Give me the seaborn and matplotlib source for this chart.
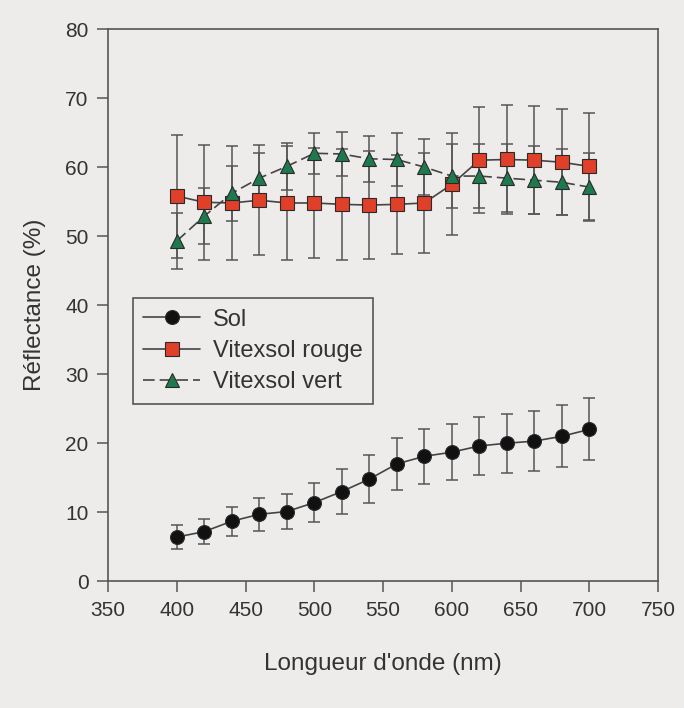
"""
Reflectance spectra of soil and Vitexsol mulch (red / green), mean +/- sd.
"""

import matplotlib
matplotlib.use("Agg")
import matplotlib.pyplot as plt
import seaborn as sns

# wavelengths (nm)
wavelength = [400, 420, 440, 460, 480, 500, 520, 540,
              560, 580, 600, 620, 640, 660, 680, 700]

# reflectance (%) and standard deviation
sol = [6.4, 7.2, 8.7, 9.7, 10.1, 11.4, 13.0, 14.8,
       17.0, 18.1, 18.7, 19.6, 20.0, 20.3, 21.0, 22.0]
sol_err = [1.7, 1.8, 2.1, 2.4, 2.6, 2.8, 3.2, 3.5,
           3.8, 4.0, 4.1, 4.2, 4.3, 4.3, 4.5, 4.5]

rouge = [55.8, 54.9, 54.8, 55.2, 54.8, 54.8, 54.6, 54.5,
         54.6, 54.8, 57.5, 61.0, 61.1, 61.0, 60.7, 60.1]
rouge_err = [8.9, 8.3, 8.2, 8.0, 8.2, 8.0, 8.0, 7.8,
             7.2, 7.3, 7.4, 7.7, 7.9, 7.8, 7.7, 7.7]

vert = [49.3, 52.9, 56.2, 58.4, 60.1, 62.0, 61.9, 61.2,
        61.1, 60.0, 58.7, 58.7, 58.4, 58.1, 57.8, 57.1]
vert_err = [4.0, 4.1, 4.0, 3.6, 3.4, 3.0, 3.2, 3.3,
            3.8, 4.0, 4.6, 4.6, 4.9, 4.9, 4.8, 4.9]

labels = ['Sol', 'Vitexsol rouge', 'Vitexsol vert']
x_ticks = [350, 400, 450, 500, 550, 600, 650, 700, 750]
y_ticks = [0, 10, 20, 30, 40, 50, 60, 70, 80]

bg = '#eeebeb'
ink = '#333333'

sns.set_theme(style='ticks')
plt.rcParams['font.family'] = ['Liberation Sans', 'DejaVu Sans']

fig = plt.figure(figsize=(6.84, 7.08), dpi=100, facecolor=bg)
ax = fig.add_axes([0.158, 0.179, 0.804, 0.780])
ax.set_facecolor(bg)

series = [
    (sol, sol_err, 'o', '#111111', '-'),
    (rouge, rouge_err, 's', '#e0402a', '-'),
    (vert, vert_err, '^', '#1e7a4e', (0, (7, 3))),
]

for (vals, err, marker, fc, ls), name in zip(series, labels):
    ax.errorbar(wavelength, vals, yerr=err, fmt='none', ecolor='#555555',
                elinewidth=1.1, capsize=4, capthick=1.1, zorder=1.5)
    sns.lineplot(x=wavelength, y=vals, ax=ax, color='#444444', linewidth=1.2,
                 linestyle=ls, marker=marker, markersize=10,
                 markerfacecolor=fc, markeredgecolor='#2a2a2a',
                 markeredgewidth=0.8, errorbar=None, label=name, zorder=2)

ax.set_xlim(350, 750)
ax.set_ylim(0, 80)
ax.set_xticks(x_ticks)
ax.set_yticks(y_ticks)
ax.tick_params(direction='out', length=8, width=1.1, color='#555555',
               labelsize=15, labelcolor=ink, pad=6)
for side in ['left', 'right', 'top', 'bottom']:
    ax.spines[side].set_visible(True)
    ax.spines[side].set_color('#555555')
    ax.spines[side].set_linewidth(1.2)

ax.set_xlabel("Longueur d'onde (nm)", fontsize=17.5, color=ink, labelpad=24)
ax.set_ylabel('Réflectance (%)', fontsize=17.5, color=ink, labelpad=14)

leg = ax.legend(loc='upper left', bbox_to_anchor=(0.045, 0.513),
                borderaxespad=0, fontsize=17, frameon=True, fancybox=False,
                handlelength=2.4, labelspacing=0.4, handletextpad=0.55,
                borderpad=0.45, facecolor=bg, edgecolor='#555555', framealpha=1)
leg.get_frame().set_linewidth(1.2)
for t in leg.get_texts():
    t.set_color(ink)

fig.savefig('out.png', dpi=100, facecolor=bg)
